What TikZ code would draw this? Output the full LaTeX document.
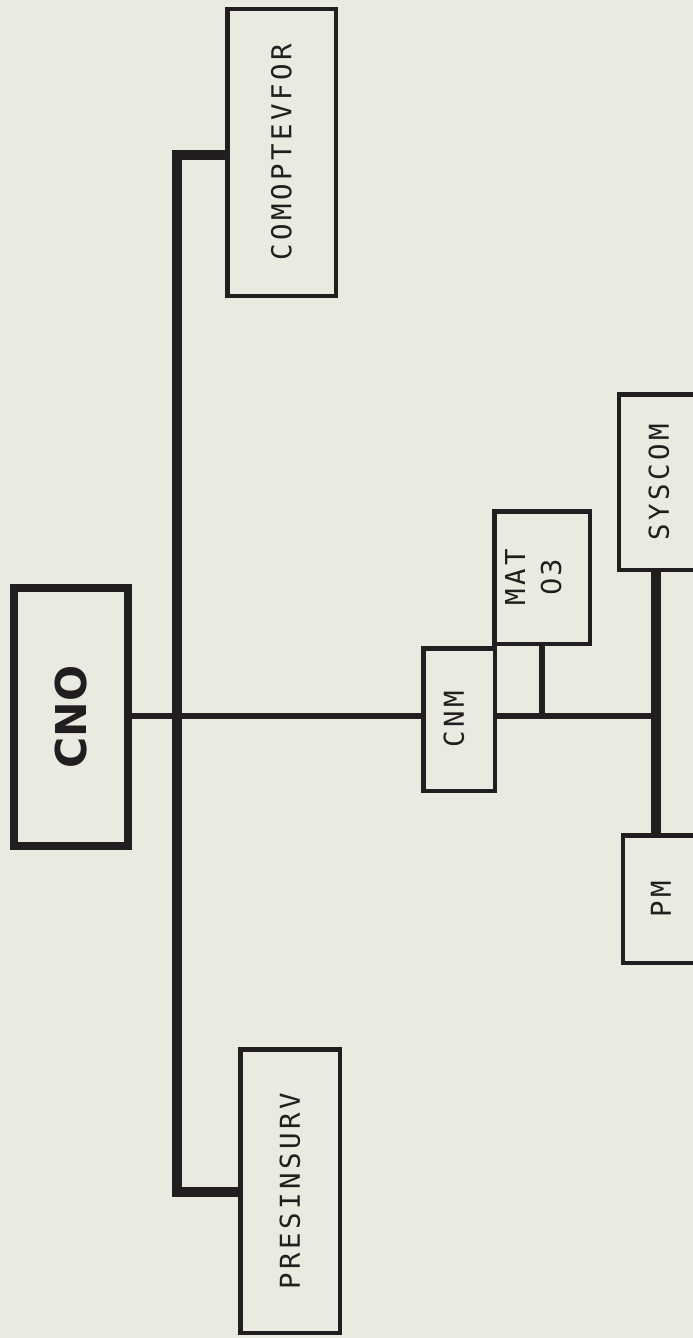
\documentclass[tikz,border=0pt]{standalone}
\usepackage{fontspec}
\newfontfamily\lblfont[LetterSpace=12.8]{DejaVu Sans Mono}
\newfontfamily\digfont[LetterSpace=6]{DejaVu Sans}
\newfontfamily\cnofont{DejaVu Sans}
\definecolor{ink}{HTML}{221E1F}
\definecolor{paper}{HTML}{E9EBE1}
\begin{document}
\begin{tikzpicture}[x=1pt,y=-1pt,
  box/.style={draw=ink, line width=4.5pt, fill=paper, inner sep=0pt, text=ink,
    font=\lblfont\fontsize{27.4}{32}\selectfont},
  bigbox/.style={box, line width=8pt, font=\cnofont\bfseries\fontsize{42.5}{48}\selectfont},
  link/.style={draw=ink, line width=6.5pt, line join=miter},
  trunk/.style={draw=ink, line width=10pt, line join=miter},
  stub/.style={draw=ink, line width=6pt}]
\fill[paper] (0,0) rectangle (693,1338);
\useasboundingbox (0,0) rectangle (693,1338);

% coordinates of the connector skeleton
\coordinate (ttop) at (177,155);
\coordinate (tbot) at (177,1192);
\coordinate (mainy) at (300,716);
\coordinate (spj) at (656,716);
\coordinate (matj) at (541.5,716);

% nodes
\node[box, minimum width=108.5pt, minimum height=286.5pt] (comop) at (281.5,152.5) {\rotatebox{90}{COMOPTEVFOR}};
\node[box, minimum width=99.5pt, minimum height=283.5pt] (presin) at (290,1191) {\rotatebox{90}{PRESINSURV}};
\node[bigbox, minimum width=114pt, minimum height=258pt] (cno) at (71,717) {\rotatebox{90}{CNO}};
\node[box, minimum width=71.5pt, minimum height=142.5pt] (cnm) at (459,719.5) {\hspace{-10pt}\rotatebox{90}{CNM}};
\node[box, minimum width=95.5pt, minimum height=132.5pt] (mat) at (542,577.5)
  {\hspace{-12pt}\rotatebox{90}{\fontsize{27.4}{36}\selectfont\begin{tabular}{@{}c@{}}MAT\\{\digfont 03}\end{tabular}}};
\node[box, minimum width=80pt, minimum height=175.5pt] (syscom) at (659,482) {\rotatebox{90}{SYSCOM}};
\node[box, minimum width=76pt, minimum height=127.5pt] (pm) at (661,899) {\rotatebox{90}{PM}};

% connectors
\draw[trunk] (ttop -| comop.west) -- (ttop) -- (tbot) -- (tbot -| presin.west);
\draw[link] (cno.east |- mainy) -- (cnm.west |- mainy);
\draw[link] (cnm.east |- mainy) -- (spj);
\draw[stub] (mat.south -| matj) -- (matj);
\draw[trunk] (spj |- syscom.south) -- (spj |- pm.north);
\end{tikzpicture}
\end{document}
